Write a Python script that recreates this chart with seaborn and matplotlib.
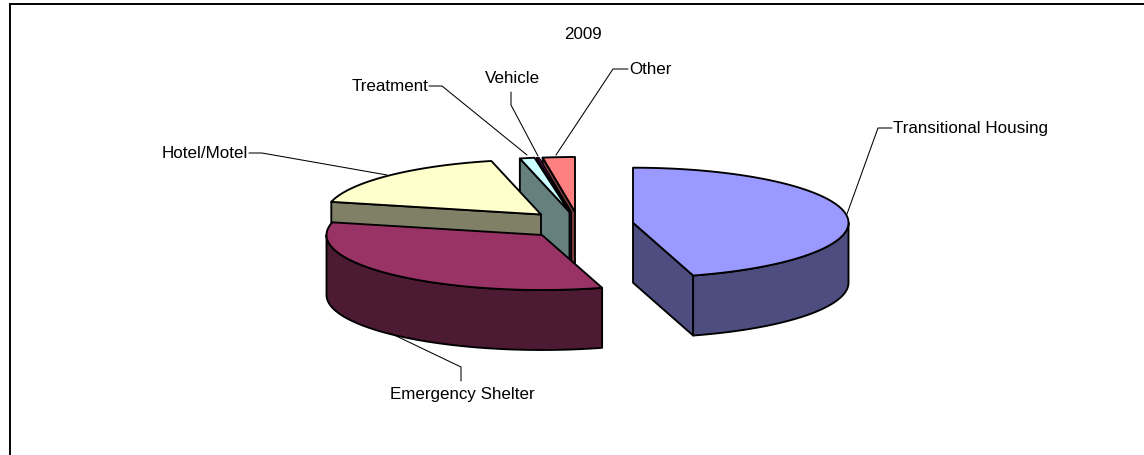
import numpy as np
import seaborn as sns
import matplotlib.pyplot as plt
from matplotlib.patches import Polygon

# Valores (percentual, sentido horario a partir do topo)
categorias = ["Transitional Housing", "Emergency Shelter", "Hotel/Motel", "Treatment", "Vehicle", "Other"]
valores = [45.5, 33.2, 17.6, 1.1, 0.2, 2.4]
cores = ["#9999FF", "#993366", "#FFFFCC", "#CCFFFF", "#660066", "#FF8080"]
titulo = "2009"

# Layout em pixels da imagem
ORIGENS = [(633, 222.7), (542, 235), (541, 214.5), (569.5, 212), (571.5, 212), (575, 212)]
RAIO_X = 215.5
RAIO_Y = 55
ALTURA = 60
ORDEM = [0, 5, 4, 3, 2, 1]  # de tras para frente

ROTULOS = [(893, 128.5, "left"), (462, 395, "center"), (248, 153.5, "right"),
           (428, 86.5, "right"), (512, 78.5, "center"), (629, 69.5, "left")]
GUIAS = [
    [(892, 128), (878, 128), (847, 214)],
    [(392, 334), (461, 367), (461, 381)],
    [(249, 153), (262, 153), (387, 175)],
    [(429, 86), (442, 86), (527, 155)],
    [(511, 92), (511, 105), (538, 156)],
    [(628, 69), (613, 69), (556, 155)],
]

sns.set_theme(style="white")
plt.rcParams["font.family"] = ["Liberation Sans", "DejaVu Sans"]
paleta = sns.color_palette(cores)


def arco(origem, ini, fim, desce=0):
    t = np.radians(np.linspace(ini, fim, max(int(abs(fim - ini)) * 2, 2)))
    return np.column_stack([origem[0] + RAIO_X * np.sin(t),
                            origem[1] - RAIO_Y * np.cos(t) + desce])


def desenha_fatia(ax, origem, ini, fim, cor, largura=1.35):
    parede = tuple(c * 0.5 for c in cor)
    estilo = dict(edgecolor="black", linewidth=largura, joinstyle="round")
    # parede radial de entrada ou saida, se estiver virada para quem olha
    for ang, visivel in ((ini, np.sin(np.radians(ini)) < -1e-6), (fim, np.sin(np.radians(fim)) > 1e-6)):
        if visivel:
            p = arco(origem, ang, ang)[0]
            ax.add_patch(Polygon([origem, p, (p[0], p[1] + ALTURA), (origem[0], origem[1] + ALTURA)],
                                 facecolor=parede, **estilo))
    # parede curva, so a parte da frente da elipse
    a, b = max(ini, 90), min(fim, 270)
    if a < b:
        ax.add_patch(Polygon(np.vstack([arco(origem, a, b), arco(origem, b, a, ALTURA)]),
                             facecolor=parede, **estilo))
    # tampo
    ax.add_patch(Polygon(np.vstack([[origem], arco(origem, ini, fim)]), facecolor=cor, **estilo))


fig = plt.figure(figsize=(11.44, 4.55), dpi=100)
ax = fig.add_axes([0, 0, 1, 1])
ax.set_xlim(0, 1144)
ax.set_ylim(455, 0)
ax.axis("off")

angulos = np.concatenate([[0], np.cumsum(valores)]) / sum(valores) * 360
for i in ORDEM:
    # a fatia Vehicle e muito fina, o contorno normal cobriria toda a cor
    desenha_fatia(ax, ORIGENS[i], angulos[i], angulos[i + 1], paleta[i], 0.9 if valores[i] < 0.5 else 1.35)

for guia in GUIAS:
    xs, ys = zip(*guia)
    ax.plot(xs, ys, color="black", linewidth=0.75, zorder=1)

for nome, (x, y, alinha) in zip(categorias, ROTULOS):
    ax.text(x, y, nome, ha=alinha, va="center", fontsize=12.25, color="black")
ax.text(583, 34.5, titulo, ha="center", va="center", fontsize=12.25, color="black")

# moldura do grafico: so aparecem o topo e a esquerda
ax.plot([10, 10, 1144], [455, 4, 4], color="black", linewidth=1.4, solid_joinstyle="miter")

fig.savefig("out.png", dpi=100)
